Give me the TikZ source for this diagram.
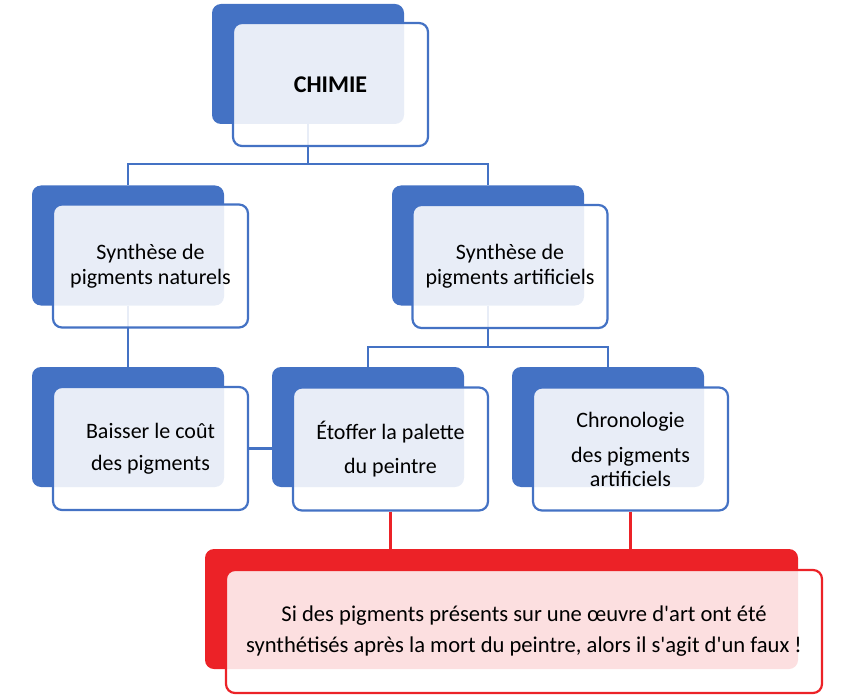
\documentclass[tikz,border=0pt]{standalone}
\usepackage{fontspec}
\setmainfont{Carlito}
\definecolor{chemblue}{HTML}{4472C4}
\definecolor{fakered}{HTML}{EC2227}

\begin{document}
\begin{tikzpicture}[x=1pt, y=-1pt,
		backbox/.style={draw=none, fill=chemblue, rounded corners=9pt, minimum width=192pt, minimum height=120pt, inner sep=0pt},
		frontbox/.style={draw=chemblue, line width=2.2pt, fill=white, fill opacity=0.88, text opacity=1, rounded corners=9pt, minimum width=195pt, minimum height=123pt, inner sep=0pt, align=center, font=\fontsize{22}{25}\selectfont},
		redback/.style={backbox, fill=fakered, minimum width=593pt},
		redfront/.style={frontbox, draw=fakered, fill opacity=0.86, minimum width=596pt, font=\fontsize{22.6}{31}\selectfont},
		link/.style={draw=chemblue, line width=2.2pt},
		redlink/.style={draw=fakered, line width=2.5pt}]
		\useasboundingbox (0,0) rectangle (850,700);
		% back boxes
		\node[backbox] (chimieB) at (308,64) {};
		\node[backbox] (natB) at (128,245.5) {};
		\node[backbox] (artB) at (488,245.5) {};
		\node[backbox] (baisB) at (128,427) {};
		\node[backbox] (etofB) at (368,427) {};
		\node[backbox] (chronoB) at (608,427) {};
		\node[redback] (fauxB) at (501.5,609) {};
		% links
		\draw[link] (chimieB.south) -- ++(0,40) -| (natB.north);
		\draw[link] (chimieB.south) ++(0,40) -| (artB.north);
		\draw[link] (natB) -- (baisB);
		\draw[link] (artB.south) -- ++(0,41) -| (etofB.north);
		\draw[link] (artB.south) ++(0,41) -| (chronoB.north);
		% front boxes
		\node[frontbox] (chimieF) at (330.5,84.5) {\fontsize{24}{28}\selectfont\bfseries CHIMIE};
		\node[frontbox] (natF) at (150.5,266) {Synthèse de\\pigments naturels};
		\node[frontbox] (artF) at (510,266.5) {Synthèse de\\pigments artificiels};
		\node[frontbox] (baisF) at (150.5,448.5) {Baisser le coût\\[7pt]des pigments};
		\node[frontbox] (etofF) at (390.5,449) {Étoffer la palette\\[9pt]du peintre};
		\node[frontbox] (chronoF) at (630.5,449) {Chronologie\\[10pt]des pigments\\[-1pt]artificiels};
		\node[redfront] (fauxF) at (524,631.5) {Si des pigments présents sur une œuvre d\textquotesingle art ont été\\synthétisés après la mort du peintre, alors il s\textquotesingle agit d\textquotesingle un faux !};
		\draw[link] (baisF.east) -- (baisF.east -| etofB.west);
		\draw[redlink] (etofF.south) -- (etofF.south |- fauxB.north);
		\draw[redlink] (chronoF.south) -- (chronoF.south |- fauxB.north);
	\end{tikzpicture}
\end{document}
